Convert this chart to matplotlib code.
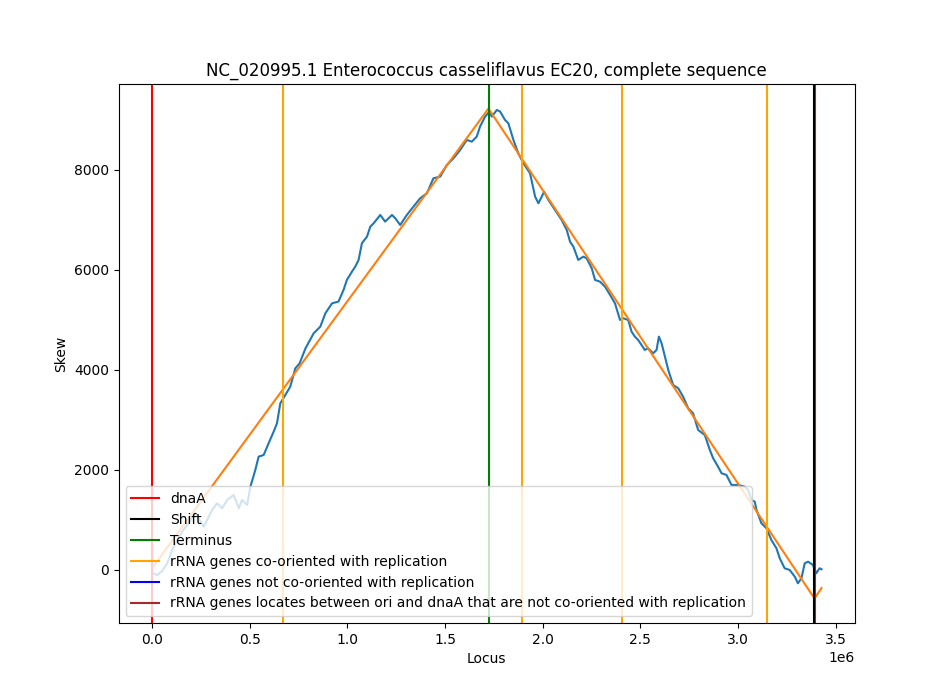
import matplotlib
matplotlib.use('Agg')
import matplotlib.pyplot as plt
from matplotlib.lines import Line2D

# skew curve (locus in bp)
locus = [0, 26000, 51000, 77000, 102000, 128000, 153000, 179000, 196000, 221000,
         247000, 264000, 281000, 307000, 332000, 358000, 384000, 417000, 443000, 460000,
         486000, 503000, 528000, 545000, 571000, 596000, 622000, 639000, 656000, 682000,
         707000, 733000, 755000, 785000, 827000, 861000, 887000, 921000, 954000, 980000,
         997000, 1023000, 1040000, 1057000, 1074000, 1100000, 1117000, 1134000, 1168000, 1193000,
         1228000, 1245000, 1270000, 1304000, 1338000, 1372000, 1407000, 1440000, 1475000, 1509000,
         1543000, 1577000, 1611000, 1637000, 1662000, 1679000, 1705000, 1727000, 1739000, 1765000,
         1782000, 1807000, 1824000, 1850000, 1875000, 1901000, 1935000, 1961000, 1978000, 1995000,
         2007000, 2029000, 2063000, 2097000, 2123000, 2140000, 2157000, 2182000, 2208000, 2225000,
         2251000, 2268000, 2293000, 2319000, 2345000, 2370000, 2396000, 2412000, 2438000, 2455000,
         2472000, 2489000, 2506000, 2523000, 2540000, 2566000, 2583000, 2595000, 2609000, 2626000,
         2643000, 2668000, 2694000, 2719000, 2745000, 2770000, 2796000, 2830000, 2856000, 2873000,
         2898000, 2916000, 2941000, 2967000, 3001000, 3035000, 3052000, 3069000, 3086000, 3095000,
         3120000, 3146000, 3171000, 3197000, 3214000, 3239000, 3265000, 3291000, 3307000, 3325000,
         3342000, 3359000, 3384000, 3401000, 3418000, 3428000]
skew = [-60, -100, -20, 133, 400, 599, 766, 899, 999, 1139,
        966, 866, 999, 1199, 1332, 1232, 1399, 1499, 1232, 1399,
        1299, 1665, 1998, 2264, 2298, 2531, 2764, 2931, 3330, 3497,
        3663, 4029, 4129, 4429, 4729, 4862, 5129, 5328, 5362, 5595,
        5794, 5961, 6060, 6194, 6527, 6660, 6860, 6926, 7093, 6960,
        7093, 7026, 6893, 7093, 7259, 7426, 7526, 7825, 7859, 8092,
        8225, 8391, 8591, 8558, 8658, 8858, 9058, 9158, 9058, 9191,
        9158, 8991, 8925, 8591, 8325, 8126, 7926, 7459, 7326, 7459,
        7559, 7393, 7193, 6993, 6793, 6560, 6460, 6194, 6260, 6227,
        6028, 5794, 5761, 5661, 5495, 5328, 4995, 5029, 4995, 4762,
        4662, 4595, 4495, 4396, 4429, 4329, 4396, 4662, 4529, 4262,
        3996, 3696, 3630, 3463, 3231, 3131, 2797, 2697, 2398, 2231,
        2064, 1932, 1898, 1698, 1698, 1664, 1598, 1399, 1365, 1199,
        933, 833, 599, 434, 234, 34, 0, -134, -266, -166,
        134, 166, 100, -66, 34, 14]

# piecewise linear fit
fit_locus = [0, 1722000, 3392000, 3428000]
fit_skew = [40, 9220, -570, -360]

dnaA_pos = [0, 3397000]
shift_pos = [3388000]
terminus_pos = [1725000]
rrna_co = [670000, 1893000, 2404000, 3151000]

fig, ax = plt.subplots(figsize=(9.5, 7))

ax.plot(locus, skew)
ax.plot(fit_locus, fit_skew)

for p in dnaA_pos:
    ax.axvline(p, color='red')
for p in shift_pos:
    ax.axvline(p, color='black')
for p in terminus_pos:
    ax.axvline(p, color='green')
for p in rrna_co:
    ax.axvline(p, color='orange')

handles = [
    Line2D([0], [0], color='red', label='dnaA'),
    Line2D([0], [0], color='black', label='Shift'),
    Line2D([0], [0], color='green', label='Terminus'),
    Line2D([0], [0], color='orange', label='rRNA genes co-oriented with replication'),
    Line2D([0], [0], color='blue', label='rRNA genes not co-oriented with replication'),
    Line2D([0], [0], color='brown', label='rRNA genes locates between ori and dnaA that are not co-oriented with replication'),
]
ax.legend(handles=handles, loc='lower left')

ax.set_title('NC_020995.1 Enterococcus casseliflavus EC20, complete sequence')
ax.set_xlabel('Locus')
ax.set_ylabel('Skew')

plt.savefig('out.png', dpi=100)
